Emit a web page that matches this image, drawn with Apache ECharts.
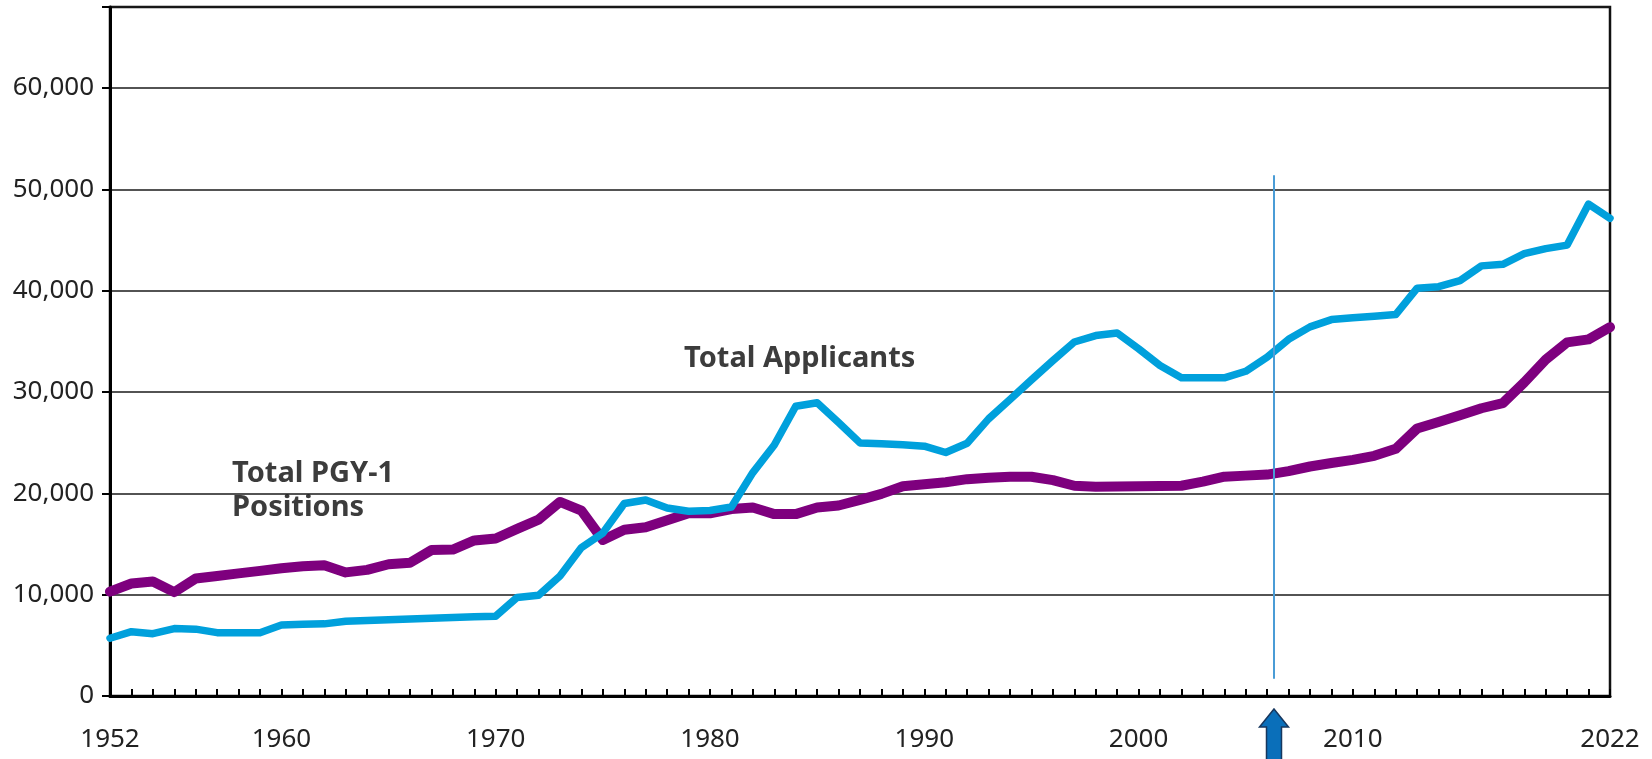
<!DOCTYPE html>
<html>
<head>
<meta charset="utf-8">
<title>Total Applicants and Total PGY-1 Positions, 1952-2022</title>
<script src="https://cdn.jsdelivr.net/npm/echarts@6/dist/echarts.min.js"></script>
<style>
  html, body { margin: 0; padding: 0; background: #fff; }
  #chart { width: 1652px; height: 759px; }
</style>
</head>
<body>
<div id="chart"></div>
<script>
// match years
const years = [
  1952, 1953, 1954, 1955, 1956, 1957, 1958, 1959, 1960, 1961,
  1962, 1963, 1964, 1965, 1966, 1967, 1968, 1969, 1970, 1971,
  1972, 1973, 1974, 1975, 1976, 1977, 1978, 1979, 1980, 1981,
  1982, 1983, 1984, 1985, 1986, 1987, 1988, 1989, 1990, 1991,
  1992, 1993, 1994, 1995, 1996, 1997, 1998, 1999, 2000, 2001,
  2002, 2003, 2004, 2005, 2006, 2007, 2008, 2009, 2010, 2011,
  2012, 2013, 2014, 2015, 2016, 2017, 2018, 2019, 2020, 2021,
  2022
]

// Total Applicants (blue line)
const applicants = [
  5700, 6350, 6150, 6650, 6600, 6250, 6250, 6250, 7000, 7070,
  7120, 7380, 7450, 7530, 7600, 7670, 7740, 7810, 7880, 9730,
  9950, 11840, 14650, 16080, 19000, 19350, 18550, 18240, 18310, 18650,
  22050, 24770, 28600, 28940, 27000, 24980, 24890, 24790, 24660, 24030,
  24950, 27350, 29270, 31200, 33100, 34940, 35570, 35820, 34270, 32620,
  31400, 31400, 31400, 32050, 33450, 35200, 36430, 37150, 37320, 37480,
  37650, 40250, 40400, 41000, 42450, 42600, 43650, 44150, 44500, 48550,
  47150
]

// Total PGY-1 Positions (purple line)
const positions = [
  10300, 11100, 11300, 10250, 11600, 11850, 12100, 12350, 12600, 12800,
  12900, 12200, 12450, 13000, 13150, 14400, 14450, 15350, 15550, 16500,
  17400, 19150, 18300, 15400, 16400, 16650, 17350, 18030, 18030, 18450,
  18600, 17950, 17950, 18600, 18800, 19350, 19950, 20700, 20900, 21100,
  21400, 21550, 21640, 21640, 21300, 20750, 20650, 20680, 20700, 20720,
  20750, 21150, 21650, 21750, 21850, 22200, 22650, 23000, 23300, 23700,
  24400, 26400, 27050, 27700, 28400, 28900, 30950, 33200, 34900, 35200,
  36400
]

// tick labels
const yearLabels = [1952, 1960, 1970, 1980, 1990, 2000, 2010, 2022]
const valueLabels = [0, 10000, 20000, 30000, 40000, 50000, 60000]

// marked year (vertical line + arrow)
const markerYear = 2006.3
const markerRange = [1700, 51400]

const chart = echarts.init(document.getElementById('chart'))

const labelFont = '"Noto Sans", "Open Sans", sans-serif'

const option = {
  backgroundColor: '#fff',
  animation: false,
  grid: {
    left: 110,
    right: 42,
    top: 7,
    bottom: 63,
    show: true,
    borderColor: '#111',
    borderWidth: 2.5
  },
  xAxis: {
    type: 'value',
    min: 1952,
    max: 2022,
    interval: 1,
    splitLine: { show: false },
    axisLine: { onZero: false, lineStyle: { color: '#000', width: 3 } },
    axisTick: { inside: true, length: 7, lineStyle: { color: '#000', width: 2 } },
    axisLabel: {
      margin: 31,
      color: '#222',
      fontFamily: labelFont,
      fontSize: 26,
      formatter: (v) => (yearLabels.includes(v) ? String(v) : '')
    }
  },
  yAxis: {
    type: 'value',
    min: 0,
    max: 68000,
    interval: 10000,
    axisLine: { show: true, lineStyle: { color: '#000', width: 3 } },
    axisTick: { show: true, length: 8, lineStyle: { color: '#000', width: 2 } },
    splitLine: { lineStyle: { color: '#1a1a1a', width: 1.5 } },
    axisLabel: {
      margin: 16,
      color: '#222',
      fontFamily: labelFont,
      fontSize: 26,
      formatter: (v) => (valueLabels.includes(v) ? v.toLocaleString('en-US') : '')
    }
  },
  series: [
    {
      name: 'Total PGY-1 Positions',
      type: 'line',
      data: years.map((y, i) => [y, positions[i]]),
      showSymbol: false,
      lineStyle: { color: '#7e007e', width: 10, cap: 'round', join: 'round' },
      z: 3
    },
    {
      name: 'Total Applicants',
      type: 'line',
      data: years.map((y, i) => [y, applicants[i]]),
      showSymbol: false,
      lineStyle: { color: '#00a0dc', width: 7.5, cap: 'round', join: 'round' },
      z: 4,
      markLine: {
        silent: true,
        symbol: 'none',
        label: { show: false },
        lineStyle: { color: '#4a9cd6', width: 2, type: 'solid' },
        data: [
          [
            { coord: [markerYear, markerRange[1]] },
            { coord: [markerYear, markerRange[0]] }
          ]
        ]
      }
    }
  ],
  graphic: [
    {
      type: 'text',
      x: 684,
      y: 359,
      style: {
        text: 'Total Applicants',
        font: 'bold 29px "Noto Sans", sans-serif',
        fill: '#3c3c3c',
        verticalAlign: 'middle'
      }
    },
    {
      type: 'text',
      x: 232,
      y: 474,
      style: {
        text: 'Total PGY-1',
        font: 'bold 29px "Noto Sans", sans-serif',
        fill: '#3c3c3c',
        verticalAlign: 'middle'
      }
    },
    {
      type: 'text',
      x: 232,
      y: 508,
      style: {
        text: 'Positions',
        font: 'bold 29px "Noto Sans", sans-serif',
        fill: '#3c3c3c',
        verticalAlign: 'middle'
      }
    },
    {
      // arrow under the marked year
      type: 'polygon',
      shape: {
        points: [
          [1274, 709], [1288.5, 727], [1281.5, 727], [1281.5, 770],
          [1266.5, 770], [1266.5, 727], [1259.5, 727]
        ]
      },
      style: { fill: '#0a6fba', stroke: '#17375e', lineWidth: 1.5 }
    }
  ]
}

chart.setOption(option)
</script>
</body>
</html>
